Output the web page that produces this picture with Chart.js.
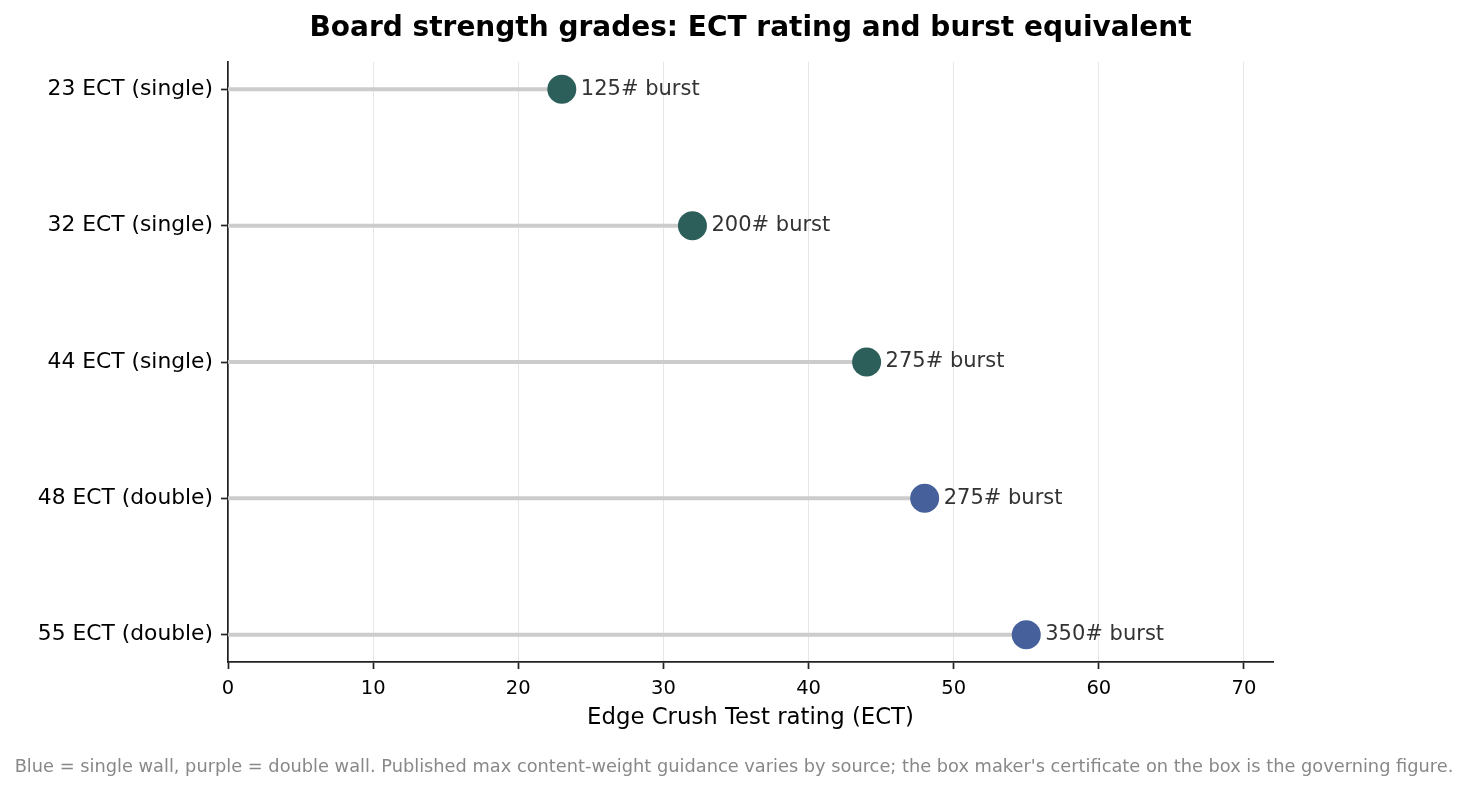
<!DOCTYPE html>
<html>
<head>
<meta charset="utf-8">
<script src="https://cdn.jsdelivr.net/npm/chart.js@4.4.1/dist/chart.umd.min.js"></script>
<style>
  html, body { margin: 0; padding: 0; background: #fff; }
  #wrap { width: 1468px; height: 790px; }
</style>
</head>
<body>
<div id="wrap"><canvas id="chart" width="1468" height="790"></canvas></div>
<script>
// Data
const grades = ['23 ECT (single)', '32 ECT (single)', '44 ECT (single)', '48 ECT (double)', '55 ECT (double)'];
const ectValues = [23, 32, 44, 48, 55];
const burstValues = [125, 200, 275, 275, 350];
const wallTypes = ['single', 'single', 'single', 'double', 'double'];
const xTicks = [0, 10, 20, 30, 40, 50, 60, 70];

const FONT = "'DejaVu Sans', 'Noto Sans', sans-serif";
const wallColors = { single: '#2d5f5a', double: '#46609c' };
const titleText = 'Board strength grades: ECT rating and burst equivalent';
const footerText = "Blue = single wall, purple = double wall. Published max content-weight guidance varies by source; the box maker's certificate on the box is the governing figure.";

// stems under the dots, burst labels beside them, title and footnote
const lollipopPlugin = {
    id: 'lollipop',
    beforeDatasetsDraw(chart) {
        const { ctx, scales: { x, y } } = chart;
        ctx.save();
        ctx.strokeStyle = '#cccccc';
        ctx.lineWidth = 4;
        ectValues.forEach((v, i) => {
            const py = y.getPixelForValue(i);
            ctx.beginPath();
            ctx.moveTo(x.getPixelForValue(0), py);
            ctx.lineTo(x.getPixelForValue(v), py);
            ctx.stroke();
        });
        ctx.restore();
    },
    afterDatasetsDraw(chart) {
        const { ctx, scales: { x, y } } = chart;
        ctx.save();
        ctx.font = `21px ${FONT}`;
        ctx.fillStyle = '#333333';
        ctx.textAlign = 'left';
        ctx.textBaseline = 'middle';
        ectValues.forEach((v, i) => {
            ctx.fillText(`${burstValues[i]}# burst`, x.getPixelForValue(v) + 19, y.getPixelForValue(i));
        });
        ctx.restore();
    },
    afterDraw(chart) {
        const { ctx, chartArea } = chart;
        ctx.save();
        ctx.textAlign = 'center';
        ctx.textBaseline = 'alphabetic';
        ctx.fillStyle = '#000';
        ctx.font = `bold 28px ${FONT}`;
        ctx.fillText(titleText, (chartArea.left + chartArea.right) / 2, 36);
        ctx.fillStyle = '#888888';
        ctx.font = `17.8px ${FONT}`;
        ctx.fillText(footerText, chart.width / 2, 772);
        ctx.restore();
    }
};

new Chart(document.getElementById('chart'), {
    type: 'scatter',
    data: {
        datasets: [{
            data: ectValues.map((v, i) => ({ x: v, y: i })),
            pointRadius: 14.5,
            pointHoverRadius: 14.5,
            pointBorderWidth: 0,
            pointBackgroundColor: wallTypes.map(w => wallColors[w]),
            clip: false
        }]
    },
    options: {
        responsive: false,
        animation: false,
        devicePixelRatio: 1,
        events: [],
        layout: { padding: { left: 0, right: 195, top: 62, bottom: 58 } },
        plugins: { legend: { display: false }, tooltip: { enabled: false }, title: { display: false } },
        scales: {
            x: {
                type: 'linear',
                min: 0,
                max: 72,
                afterBuildTicks: (scale) => { scale.ticks = xTicks.map(v => ({ value: v })); },
                afterFit: (scale) => { scale.height = 70; },
                ticks: { color: '#000', font: { family: FONT, size: 19.5 }, padding: 8, maxRotation: 0 },
                grid: { color: '#e6e6e6', lineWidth: 1, tickColor: '#222', tickLength: 7, tickWidth: 1.7 },
                border: { color: '#222', width: 1.7 },
                title: { display: true, text: 'Edge Crush Test rating (ECT)', color: '#000', font: { family: FONT, size: 22.8 }, padding: { top: 0, bottom: 0 } }
            },
            y: {
                type: 'linear',
                min: -0.2,
                max: 4.2,
                reverse: true,
                afterBuildTicks: (scale) => { scale.ticks = grades.map((_, i) => ({ value: i })); },
                afterFit: (scale) => { scale.width = 228; },
                ticks: { color: '#000', font: { family: FONT, size: 21.8 }, padding: 8, callback: (v) => grades[v] },
                grid: { drawOnChartArea: false, tickColor: '#222', tickLength: 7, tickWidth: 1.7 },
                border: { color: '#222', width: 1.7 }
            }
        }
    },
    plugins: [lollipopPlugin]
});
</script>
</body>
</html>
